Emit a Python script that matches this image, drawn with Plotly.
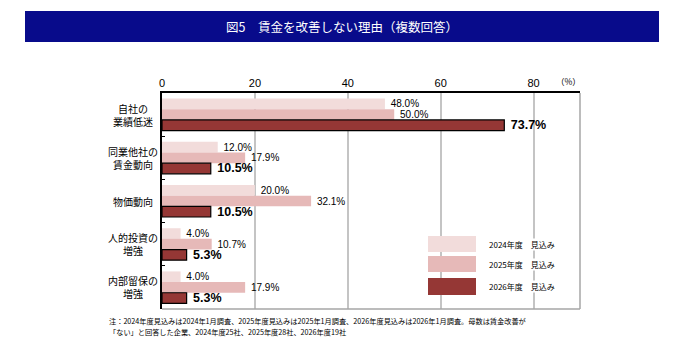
import plotly.graph_objects as go

categories = ["自社の<br>業績低迷", "同業他社の<br>賃金動向", "物価動向", "人的投資の<br>増強", "内部留保の<br>増強"]
series_names = ["2024年度　見込み", "2025年度　見込み", "2026年度　見込み"]
v2024 = [48.0, 12.0, 20.0, 4.0, 4.0]
v2025 = [50.0, 17.9, 32.1, 10.7, 17.9]
v2026 = [73.7, 10.5, 10.5, 5.3, 5.3]
x_ticks = [0, 20, 40, 60, 80]
colors = ["#F2DCDB", "#E6B9B8", "#953735"]

JP = "Noto Sans CJK JP"
AR = "Liberation Sans, Arial"

fig = go.Figure()
for i, (name, vals) in enumerate(zip(series_names, [v2024, v2025, v2026])):
    bold = i == 2
    fig.add_trace(go.Bar(
        y=categories, x=vals, orientation="h", name=name,
        marker=dict(color=colors[i],
                    line=dict(color="black" if bold else colors[i], width=1.2 if bold else 0)),
        text=[("\u00a0" + f"{v:.1f}%") for v in vals],
        texttemplate=("<b>%{text}</b>" if bold else "%{text}"),
        textposition="outside",
        textfont=dict(family=AR, size=12.5 if bold else 10, color="black"),
        constraintext="none", cliponaxis=False, showlegend=False,
    ))

fig.update_layout(
    width=683, height=354,
    margin=dict(l=162, r=103, t=93, b=45),
    paper_bgcolor="white", plot_bgcolor="white",
    barmode="group", bargap=0.26, bargroupgap=0,
    showlegend=False,
    xaxis=dict(side="top", range=[0, 90], tickvals=x_ticks, ticktext=[str(t) for t in x_ticks],
               showgrid=True, gridcolor="#C4C4C4", gridwidth=1.5, zeroline=False,
               showline=True, linecolor="black", linewidth=1.5, ticks="",
               tickfont=dict(family=AR, size=11, color="black")),
    yaxis=dict(autorange="reversed", showticklabels=False, showgrid=False, zeroline=False,
               showline=True, linecolor="black", linewidth=1.5,
               ticks="inside", ticklen=3, tickcolor="black", tickson="boundaries"),
)

def px_x(p):
    return (p - 162) / 418

def px_y(p):
    return (309 - p) / 216

# frame (right / bottom)
fig.add_shape(type="line", xref="paper", yref="paper", x0=1, x1=1, y0=0, y1=1,
              line=dict(color="#A6A6A6", width=1.5))
fig.add_shape(type="line", xref="paper", yref="paper", x0=0, x1=1, y0=0, y1=0,
              line=dict(color="#A6A6A6", width=1.5))

# category labels
for c in categories:
    fig.add_annotation(x=px_x(133), xref="paper", y=c, yref="y", text=c, showarrow=False,
                       xanchor="center", yanchor="middle", align="center",
                       font=dict(family=JP, size=10, color="black"))

# (%) unit
fig.add_annotation(x=px_x(568), y=px_y(81), xref="paper", yref="paper", text="（%）",
                   showarrow=False, xanchor="center", yanchor="middle",
                   font=dict(family=JP, size=8.5, color="black"))

# legend
box_y = [(236, 252), (256, 272), (278, 295)]
for i, name in enumerate(series_names):
    y0, y1 = box_y[i]
    fig.add_shape(type="rect", xref="paper", yref="paper",
                  x0=px_x(428), x1=px_x(476), y0=px_y(y1), y1=px_y(y0),
                  fillcolor=colors[i], line=dict(width=0), layer="above")
    fig.add_annotation(x=px_x(488), y=px_y((y0 + y1) / 2), xref="paper", yref="paper",
                       text=name, showarrow=False, xanchor="left", yanchor="middle",
                       bgcolor="white", borderpad=0,
                       font=dict(family=JP, size=8, color="black"))

# title bar
fig.add_shape(type="rect", xref="paper", yref="paper",
              x0=px_x(25), x1=px_x(659), y0=px_y(42), y1=px_y(11),
              fillcolor="#080B8B", line=dict(width=0))
fig.add_annotation(x=px_x(341.5), y=px_y(26.5), xref="paper", yref="paper",
                   text="図5　賃金を改善しない理由（複数回答）", showarrow=False,
                   xanchor="center", yanchor="middle",
                   font=dict(family=JP, size=12.5, color="white"))

# footnote
notes = ["注：2024年度見込みは2024年1月調査、2025年度見込みは2025年1月調査、2026年度見込みは2026年1月調査。母数は賃金改善が",
         "「ない」と回答した企業、2024年度25社、2025年度28社、2026年度19社"]
for j, t in enumerate(notes):
    fig.add_annotation(x=px_x(107), y=px_y(320.7 + 11 * j), xref="paper", yref="paper",
                       text=t, showarrow=False, xanchor="left", yanchor="middle",
                       font=dict(family=JP, size=7.2, color="black"))

fig.write_html("out.html")
